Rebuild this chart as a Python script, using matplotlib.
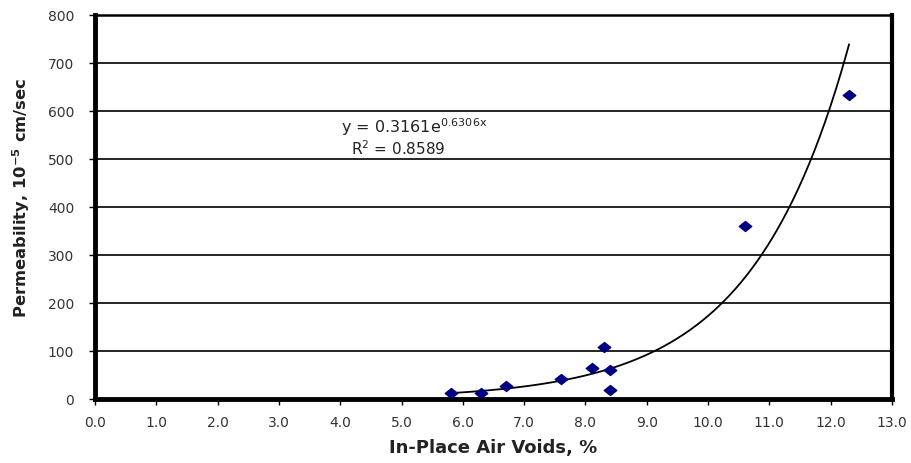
import numpy as np
import matplotlib
matplotlib.use("Agg")
import matplotlib.pyplot as plt
from matplotlib.path import Path

plt.rcParams['font.family'] = ['DejaVu Sans']
plt.rcParams['mathtext.default'] = 'regular'

# Measured in-place air voids (%) and permeability (10^-5 cm/sec)
air_voids = [5.8, 6.3, 6.7, 7.6, 8.1, 8.3, 8.4, 8.4, 10.6, 12.3]
permeability = [12, 13, 27, 42, 65, 109, 60, 18, 361, 633]

# Exponential fit y = a * exp(b * x)
fit_a = 0.3161
fit_b = 0.6306
fit_r2 = 0.8589
fit_x_range = [5.8, 12.3]

x_ticks = [0, 1, 2, 3, 4, 5, 6, 7, 8, 9, 10, 11, 12, 13]
y_ticks = [0, 100, 200, 300, 400, 500, 600, 700, 800]

fig = plt.figure(figsize=(9.12, 4.63), dpi=100)
ax = fig.add_axes([0.1042, 0.1382, 0.978 - 0.1042, 0.9676 - 0.1382])

# Horizontal grid lines
for yv in y_ticks[1:-1]:
    ax.axhline(yv, color='black', lw=1.2, zorder=1)

# Fitted trend line
xf = np.linspace(fit_x_range[0], fit_x_range[1], 300)
ax.plot(xf, fit_a * np.exp(fit_b * xf), color='black', lw=1.3, zorder=2)

# Slightly wide diamond marker
diamond = Path([(0, 1), (1.25, 0), (0, -1), (-1.25, 0), (0, 1)],
               [Path.MOVETO, Path.LINETO, Path.LINETO, Path.LINETO, Path.CLOSEPOLY])
ax.plot(air_voids, permeability, linestyle='none', marker=diamond,
        markersize=9, color='#000080', markeredgecolor='#000080', zorder=3)

ax.set_xlim(x_ticks[0], x_ticks[-1])
ax.set_ylim(y_ticks[0], y_ticks[-1])
ax.set_xticks(x_ticks)
ax.set_xticklabels([f"{v:.1f}" for v in x_ticks])
ax.set_yticks(y_ticks)
ax.set_yticklabels([str(v) for v in y_ticks])
ax.tick_params(axis='both', direction='out', length=4, width=1,
               labelsize=10, labelcolor='#333333')
ax.tick_params(axis='x', pad=8)
ax.tick_params(axis='y', pad=11)

ax.spines['left'].set_linewidth(3.5)
ax.spines['bottom'].set_linewidth(3.5)
ax.spines['right'].set_linewidth(3.0)
ax.spines['top'].set_linewidth(1.8)

ax.set_xlabel('In-Place Air Voids, %', fontsize=13, fontweight='bold',
              color='#222222', labelpad=7)
ax.set_ylabel('Permeability, 10$^{-5}$ cm/sec', fontsize=11.8, fontweight='bold',
              color='#222222')
ax.yaxis.set_label_coords(-0.079, 0.525)

ax.text(5.2, 567, f'y = {fit_a}e$^{{{fit_b}x}}$', fontsize=11.5,
        ha='center', va='center', color='#222222')
ax.text(4.95, 522, f'R$^2$ = {fit_r2}', fontsize=11,
        ha='center', va='center', color='#222222')

fig.savefig('out.png', dpi=100)
